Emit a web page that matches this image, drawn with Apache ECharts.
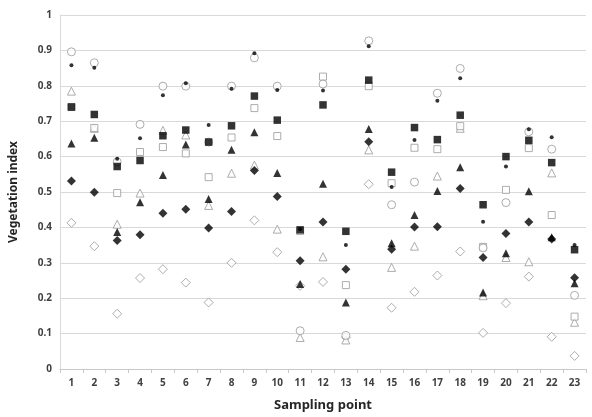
<!DOCTYPE html>
<html>
<head>
<meta charset="utf-8">
<script src="https://cdn.jsdelivr.net/npm/echarts@6/dist/echarts.min.js"></script>
<style>html,body{margin:0;padding:0;background:#fff;}#c{width:592px;height:417px;}</style>
</head>
<body>
<div id="c"></div>
<script>
const categories = ['1','2','3','4','5','6','7','8','9','10','11','12','13','14','15','16','17','18','19','20','21','22','23'];
const yTicks = [0,0.1,0.2,0.3,0.4,0.5,0.6,0.7,0.8,0.9,1];

const openDiamond = [0.413,0.347,0.156,0.257,0.282,0.244,0.188,0.30,0.42,0.33,0.235,0.246,0.09,0.522,0.173,0.218,0.264,0.332,0.102,0.186,0.261,0.091,0.037];
const openTriangle = [0.785,0.68,0.409,0.497,0.674,0.661,0.462,0.553,0.576,0.395,0.089,0.317,0.082,0.619,0.287,0.347,0.545,0.68,0.207,0.315,0.303,0.554,0.132];
const openSquare = [0.74,0.681,0.497,0.613,0.627,0.609,0.542,0.654,0.737,0.658,0.39,0.826,0.237,0.799,0.525,0.625,0.621,0.686,0.345,0.506,0.624,0.435,0.148];
const openCircle = [0.896,0.865,0.585,0.691,0.799,0.799,0.641,0.799,0.879,0.799,0.108,0.805,0.095,0.927,0.464,0.528,0.779,0.849,0.342,0.47,0.67,0.621,0.208];
const filledDiamond = [0.531,0.499,0.363,0.379,0.44,0.451,0.398,0.445,0.561,0.487,0.306,0.415,0.282,0.642,0.338,0.401,0.402,0.51,0.315,0.383,0.415,0.367,0.258];
const filledTriangle = [0.637,0.653,0.387,0.471,0.548,0.634,0.48,0.619,0.669,0.554,0.24,0.523,0.188,0.678,0.355,0.435,0.503,0.57,0.216,0.327,0.502,0.372,0.242];
const filledSquare = [0.74,0.719,0.572,0.589,0.659,0.675,0.641,0.687,0.771,0.703,0.393,0.746,0.389,0.816,0.556,0.682,0.648,0.717,0.464,0.60,0.646,0.583,0.337];
const filledDot = [0.858,0.851,0.594,0.652,0.773,0.807,0.689,0.792,0.892,0.788,0.395,0.787,0.35,0.912,0.514,0.647,0.758,0.821,0.416,0.572,0.677,0.655,0.35];

const GREY = '#999999';
function openS(name, data, symbol, size){
  return {name, type:'scatter', data, symbol, symbolSize:size,
    itemStyle:{color:'#ffffff', borderColor:GREY, borderWidth:1}, z:2};
}
function fillS(name, data, symbol, size){
  return {name, type:'scatter', data, symbol, symbolSize:size,
    itemStyle:{color:'#000000'}, z:3};
}

const chart = echarts.init(document.getElementById('c'), null, {renderer:'canvas'});
chart.setOption({
  animation:false,
  backgroundColor:'#ffffff',
  grid:{left:48, right:6, top:15, bottom:48},
  xAxis:{
    type:'category', data:categories, boundaryGap:true,
    name:'Sampling point', nameLocation:'middle', nameGap:30,
    nameTextStyle:{fontFamily:'Noto Sans', fontWeight:'bold', fontSize:13, color:'#262626'},
    axisLine:{lineStyle:{color:'#c8c8c8'}},
    axisTick:{show:true, alignWithLabel:false, lineStyle:{color:'#c8c8c8'}, length:4},
    axisLabel:{fontFamily:'Noto Sans', fontWeight:'bold', fontSize:10, color:'#404040', margin:9}
  },
  yAxis:{
    type:'value', min:0, max:1, interval:0.1,
    name:'Vegetation index', nameLocation:'middle', nameGap:40, nameRotate:90,
    nameTextStyle:{fontFamily:'Noto Sans', fontWeight:'bold', fontSize:12, color:'#262626'},
    axisLine:{show:true, lineStyle:{color:'#d9d9d9'}},
    axisTick:{show:false},
    splitLine:{lineStyle:{color:'#d9d9d9'}},
    axisLabel:{fontFamily:'Noto Sans', fontWeight:'bold', fontSize:10, color:'#404040', margin:8,
      formatter:function(v){ const t = yTicks.find(x=>Math.abs(x-v)<1e-9); return String(+(t!==undefined?t:v).toFixed(1)); }}
  },
  series:[
    openS('Open diamond', openDiamond, 'diamond', 9),
    openS('Open triangle', openTriangle, 'triangle', 8),
    openS('Open square', openSquare, 'rect', 7),
    openS('Open circle', openCircle, 'circle', 8),
    fillS('Filled diamond', filledDiamond, 'diamond', 9),
    fillS('Filled triangle', filledTriangle, 'triangle', 8),
    fillS('Filled square', filledSquare, 'rect', 7.5),
    fillS('Filled circle', filledDot, 'circle', 4)
  ]
});
</script>
</body>
</html>
